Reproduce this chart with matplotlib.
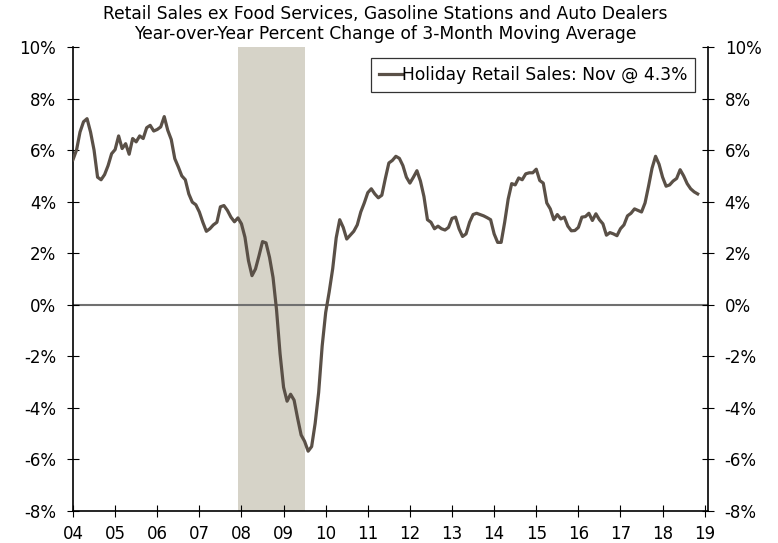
import numpy as np
import matplotlib
matplotlib.use("Agg")
import matplotlib.pyplot as plt

# Monthly values, Jan 2004 - Nov 2018 (YoY % change of 3-month moving average)
vals_2004 = [5.63, 6.0, 6.7, 7.1, 7.22, 6.7, 6.0, 4.95, 4.85, 5.05, 5.4, 5.86]
vals_2005 = [6.02, 6.55, 6.06, 6.25, 5.84, 6.45, 6.32, 6.55, 6.45, 6.87, 6.96, 6.74]
vals_2006 = [6.8, 6.9, 7.3, 6.77, 6.41, 5.67, 5.35, 5.0, 4.85, 4.3, 3.98, 3.88]
vals_2007 = [3.6, 3.2, 2.85, 2.95, 3.1, 3.2, 3.8, 3.85, 3.66, 3.4, 3.22, 3.37]
vals_2008 = [3.14, 2.62, 1.71, 1.13, 1.39, 1.9, 2.45, 2.4, 1.84, 1.06, -0.2, -1.9]
vals_2009 = [-3.2, -3.74, -3.47, -3.7, -4.4, -5.05, -5.3, -5.68, -5.5, -4.6, -3.4, -1.6]
vals_2010 = [-0.3, 0.5, 1.4, 2.6, 3.3, 3.0, 2.55, 2.7, 2.85, 3.1, 3.6, 3.95]
vals_2011 = [4.35, 4.5, 4.3, 4.15, 4.25, 4.9, 5.5, 5.6, 5.76, 5.68, 5.4, 4.95]
vals_2012 = [4.72, 4.95, 5.2, 4.8, 4.2, 3.3, 3.2, 2.95, 3.05, 2.95, 2.9, 3.0]
vals_2013 = [3.35, 3.4, 2.95, 2.65, 2.75, 3.2, 3.5, 3.55, 3.5, 3.45, 3.38, 3.3]
vals_2014 = [2.75, 2.42, 2.42, 3.2, 4.1, 4.7, 4.65, 4.92, 4.85, 5.08, 5.12, 5.12]
vals_2015 = [5.26, 4.82, 4.72, 3.95, 3.72, 3.3, 3.5, 3.33, 3.4, 3.05, 2.87, 2.88]
vals_2016 = [3.0, 3.4, 3.42, 3.55, 3.27, 3.53, 3.3, 3.14, 2.7, 2.8, 2.75, 2.68]
vals_2017 = [2.95, 3.1, 3.45, 3.55, 3.72, 3.66, 3.6, 3.95, 4.6, 5.3, 5.76, 5.45]
vals_2018 = [4.95, 4.6, 4.65, 4.8, 4.9, 5.24, 5.0, 4.7, 4.5, 4.38, 4.3]

start_year = 2004
recession = (2007 + 11 / 12, 2009.5)
ytick_vals = [-8, -6, -4, -2, 0, 2, 4, 6, 8, 10]
xtick_years = list(range(2004, 2020))
xtick_labels = [f"{y % 100:02d}" for y in xtick_years]
legend_label = "Holiday Retail Sales: Nov @ 4.3%"
title_lines = ["Retail Sales ex Food Services, Gasoline Stations and Auto Dealers",
               "Year-over-Year Percent Change of 3-Month Moving Average"]

values = np.array(vals_2004 + vals_2005 + vals_2006 + vals_2007 + vals_2008 +
                  vals_2009 + vals_2010 + vals_2011 + vals_2012 + vals_2013 +
                  vals_2014 + vals_2015 + vals_2016 + vals_2017 + vals_2018)
t = start_year + np.arange(len(values)) / 12.0

plt.rcParams['font.family'] = ['DejaVu Sans']
fig = plt.figure(figsize=(7.78, 5.43), dpi=100)
ax = fig.add_axes([73 / 778, 1 - 511 / 543, (708 - 73) / 778, (511 - 47) / 543])

line_color = "#5a5047"
ax.axvspan(recession[0], recession[1], color="#d6d3c8", lw=0, zorder=0)
ax.axhline(0, color="#707070", lw=1.5, zorder=1)
ax.plot(t, values, color=line_color, lw=2.3, label=legend_label, zorder=3,
        solid_joinstyle="round")

ax.set_xlim(2004, 2019 + 3.3 / 42.1)
ax.set_ylim(-8, 10)
ax.set_yticks(ytick_vals)
ax.set_yticklabels([f"{v}%" for v in ytick_vals])
ax.set_xticks(xtick_years)
ax.set_xticklabels(xtick_labels)

ax.spines['top'].set_visible(False)
for s in ['left', 'right', 'bottom']:
    ax.spines[s].set_linewidth(1.2)
    ax.spines[s].set_color("black")

ax.tick_params(axis='y', which='both', left=True, right=True, labelleft=True,
               labelright=True, direction='inout', length=8, width=0.8,
               pad=8, labelsize=12)
ax.tick_params(axis='x', direction='inout', length=8, width=0.8, pad=6,
               labelsize=12)

leg = ax.legend(loc='upper right', bbox_to_anchor=(0.9795, 0.976),
                frameon=True, fancybox=False, fontsize=12.3,
                handlelength=1.35, handletextpad=0.0, borderpad=0.45,
                borderaxespad=0.0)
leg.get_frame().set_edgecolor("black")
leg.get_frame().set_linewidth(0.9)

fig.text(0.495, 1 - 14 / 543, title_lines[0], ha='center', va='center', fontsize=12.3)
fig.text(0.495, 1 - 34 / 543, title_lines[1], ha='center', va='center', fontsize=12.3)

fig.savefig("out.png", dpi=100)
